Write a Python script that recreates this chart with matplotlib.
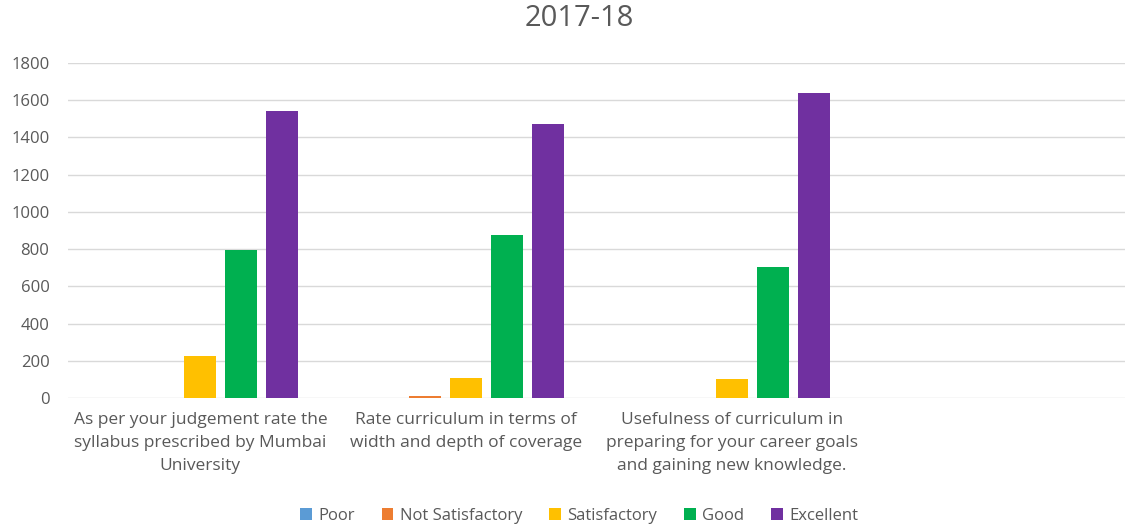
import matplotlib.pyplot as plt
import numpy as np

plt.rcParams['font.family'] = ['Open Sans', 'DejaVu Sans']

categorias = [
    "As per your judgement rate the\nsyllabus prescribed by Mumbai\nUniversity",
    "Rate curriculum in terms of\nwidth and depth of coverage",
    "Usefulness of curriculum in\npreparing for your career goals\nand gaining new knowledge.",
    "",
]
series = ["Poor", "Not Satisfactory", "Satisfactory", "Good", "Excellent"]
poor = [0, 0, 0, 0]
not_satisfactory = [0, 10, 0, 0]
satisfactory = [225, 110, 100, 0]
good = [795, 875, 705, 0]
excellent = [1540, 1470, 1640, 0]
colores = ["#5B9BD5", "#ED7D31", "#FFC000", "#00B050", "#7030A0"]

valores = [poor, not_satisfactory, satisfactory, good, excellent]

fig = plt.figure(figsize=(11.25, 5.28), dpi=100)
ax = fig.add_axes([0.06, 0.246, 0.945, 0.635])

x = np.arange(len(categorias))
paso = 0.154
ancho = 0.12
for i, (nombre, vals, c) in enumerate(zip(series, valores, colores)):
    ax.bar(x + (i - 2) * paso, vals, width=ancho, color=c, label=nombre, zorder=3)

ax.set_xlim(-0.5, len(categorias) - 0.5)
ax.set_ylim(0, 1800)
ax.set_yticks(range(0, 1801, 200))
ax.grid(axis='y', color='#D9D9D9', linewidth=1, zorder=0)
for s in ax.spines.values():
    s.set_visible(False)
ax.tick_params(axis='both', length=0, colors='#595959')
ax.tick_params(axis='y', pad=13, labelsize=12)
ax.tick_params(axis='x', pad=10, labelsize=12.5)
ax.set_xticks(x)
ax.set_xticklabels(categorias, linespacing=1.6)

fig.text(0.515, 1 - 18 / 528, "2017-18", fontsize=21, color='#595959',
         ha='center', va='center')

fig.legend(loc='center', ncol=5, frameon=False, fontsize=12,
           bbox_to_anchor=(0.515, 0.023), handlelength=0.7, handleheight=0.7,
           columnspacing=1.6, handletextpad=0.4, labelcolor='#595959')

fig.savefig('out.png', dpi=100)
